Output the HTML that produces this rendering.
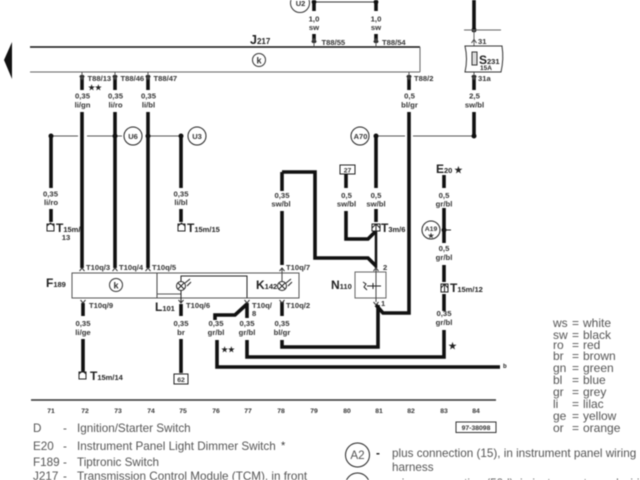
<!DOCTYPE html>
<html><head><meta charset="utf-8"><style>
html,body{margin:0;padding:0;background:#fff;width:640px;height:480px;overflow:hidden}
svg{display:block;filter:blur(.4px)}
text{font-family:"Liberation Sans",sans-serif}
.w{fill:none;stroke:#111;stroke-width:3.6}
.t{fill:none;stroke:#555;stroke-width:1}
.l{font-size:7.7px;font-weight:bold;fill:#333;text-anchor:middle}
.c{font-size:7.6px;fill:#333;font-weight:bold}
.n{font-size:6.8px;font-weight:bold;fill:#333;text-anchor:middle}
.b{font-weight:bold;fill:#222}
.g{font-size:11.7px;fill:#555}
.k{font-size:12px;fill:#555}
</style></head><body>
<svg width="640" height="480" viewBox="0 0 640 480" xmlns="http://www.w3.org/2000/svg">
<polygon points="4,60 12,42 12,79" fill="#111"/>
<line x1="30" y1="47" x2="420" y2="47" stroke="#111" stroke-width="1.5"/>
<line x1="30" y1="72" x2="420" y2="72" stroke="#666"/>
<line x1="420" y1="47" x2="420" y2="72" stroke="#666"/>
<text x="250" y="44" class="b" font-size="12.5">J<tspan font-size="8">217</tspan></text>
<circle cx="259" cy="60" r="6.5" fill="none" stroke="#333"/><text x="259" y="63.500" class="n" style="font-size:9px">k</text>

<!-- top wires -->
<circle cx="300" cy="3" r="9.5" fill="#fff" stroke="#333"/><text x="300.500" y="6" class="n" style="font-size:7.500px">U2</text>
<line x1="314" y1="2" x2="376" y2="2" stroke="#333" stroke-width="1"/>
<circle cx="314" cy="2" r="2.400" fill="#111"/><circle cx="376" cy="2" r="2.400" fill="#111"/>
<path class="w" d="M314 2V11M376 2V11M314 34V43M376 34V43"/>
<path class="t" d="M314 38V47M376 38V47"/>
<path d="M311.500 42L314 38.500L316.500 42M373.500 42L376 38.500L378.500 42" fill="none" stroke="#444"/>
<text x="314" y="21.500" class="l">1,0</text><text x="314" y="30" class="l">sw</text>
<text x="376" y="21.500" class="l">1,0</text><text x="376" y="30" class="l">sw</text>
<text x="321.500" y="45" class="c">T88/55</text><text x="382" y="45" class="c">T88/54</text>

<!-- top-bar wires down -->
<path class="w" d="M82 75V90M115 75V90M148 75V90M409 75V90M474 75V90"/>
<path class="t" d="M82 72V80M115 72V80M148 72V80M409 72V80M474 72V80"/>
<path d="M79.500 76L82 79.500L84.500 76M112.500 76L115 79.500L117.500 76M145.500 76L148 79.500L150.500 76M406.500 76L409 79.500L411.500 76M471.500 76L474 79.500L476.500 76" fill="none" stroke="#444"/>
<text x="87.500" y="81" class="c">T88/13</text><text x="120.500" y="81" class="c">T88/46</text><text x="153.500" y="81" class="c">T88/47</text>
<text x="414" y="81" class="c">T88/2</text><text x="478" y="81" class="c">31a</text>
<text x="95" y="90" font-size="7.5" class="b" text-anchor="middle">★★</text>
<text x="82.500" y="98.500" class="l">0,35</text><text x="82.500" y="107.500" class="l">li/gn</text>
<text x="115.500" y="98.500" class="l">0,35</text><text x="115.500" y="107.500" class="l">li/ro</text>
<text x="148.500" y="98.500" class="l">0,35</text><text x="148.500" y="107.500" class="l">li/bl</text>
<text x="409.500" y="98.500" class="l">0,5</text><text x="409.500" y="107.500" class="l">bl/gr</text>
<text x="474.500" y="98.500" class="l">2,5</text><text x="474.500" y="107.500" class="l">sw/bl</text>

<!-- main verticals -->
<path class="t" d="M51 136H78M87 136H115M115 136H122M148 136H181"/>
<path class="w" d="M82 112V268M115 112V268M148 112V268M51 136V188M181 136V188M51 209V222M181 209V222"/>
<circle cx="51" cy="136" r="2.500" fill="#111"/><circle cx="115" cy="136" r="2.500" fill="#111"/><circle cx="148" cy="136" r="2.500" fill="#111"/><circle cx="181" cy="136" r="2.500" fill="#111"/>
<circle cx="133" cy="136" r="9" fill="#fff" stroke="#222"/><text x="133" y="139" class="n" style="font-size:7.500px">U6</text>
<circle cx="197" cy="136" r="9" fill="#fff" stroke="#222"/><text x="197" y="139" class="n" style="font-size:7.500px">U3</text>
<text x="50.500" y="196.500" class="l">0,35</text><text x="51" y="205" class="l">li/ro</text>
<text x="181" y="196.500" class="l">0,35</text><text x="181" y="205" class="l">li/bl</text>
<rect x="47" y="224" width="7" height="7" fill="#fff" stroke="#222"/><path d="M47 226L50.500 223L54 226" fill="none" stroke="#222"/>
<rect x="178" y="224" width="7" height="7" fill="#fff" stroke="#222"/><path d="M178 226L181.500 223L185 226" fill="none" stroke="#222"/>
<text x="56" y="232" class="b" font-size="12">T<tspan font-size="7.5">15m/</tspan></text>
<text x="66" y="240" class="l">13</text>
<text x="187" y="232" class="b" font-size="12">T<tspan font-size="7.5">15m/15</tspan></text>

<!-- fuse -->
<path class="w" d="M474 0V30"/>
<circle cx="474" cy="30" r="2.500" fill="#111"/>
<line x1="464" y1="30" x2="501" y2="30" stroke="#666"/>
<line x1="474" y1="30" x2="474" y2="46" stroke="#666"/>
<path d="M471.500 43L474 39.500L476.500 43" fill="none" stroke="#444"/>
<text x="478" y="44" class="c">31</text>
<path d="M465 46H502Q504 59 501 72H465Q468 59 465 46Z" fill="#fff" stroke="#333"/>
<rect x="472" y="52" width="5" height="13" fill="#ddd" stroke="#333"/>
<text x="479" y="64" class="b" font-size="12">S<tspan font-size="7.5">231</tspan></text>
<text x="480" y="70" class="b" font-size="6.500">15A</text>
<path class="w" d="M474 112V136"/>
<line x1="376" y1="136" x2="405" y2="136" stroke="#555"/><line x1="413" y1="136" x2="474" y2="136" stroke="#555"/>
<circle cx="474" cy="136" r="2.500" fill="#111"/><circle cx="376" cy="136" r="2.500" fill="#111"/>
<circle cx="360" cy="136" r="9" fill="#fff" stroke="#222"/><text x="360.500" y="139" class="n" style="font-size:7.500px">A70</text>
<path class="w" d="M409 112V313H383L376 305"/>
<path class="w" d="M376 136V188M376 209V222"/>
<path class="w" style="stroke-width:2.500px" d="M376 230V268"/>

<!-- 27 -->
<rect x="340" y="165" width="15" height="9" fill="#fff" stroke="#222"/><text x="347.500" y="172.500" class="n">27</text>
<path class="w" d="M346 174V188M346 211V239H368L376 231"/>
<text x="346.500" y="198" class="l">0,5</text><text x="346.500" y="206.500" class="l">sw/bl</text>
<text x="376" y="198" class="l">0,5</text><text x="376" y="206.500" class="l">sw/bl</text>
<rect x="372" y="224" width="8" height="7" fill="#fff" stroke="#222"/><path d="M372 228L376 224L380 228M376 224V231" fill="none" stroke="#222"/>
<text x="381" y="232" class="b" font-size="12">T<tspan font-size="7.5">3m/6</tspan></text>

<!-- 282 wire -->
<path class="w" d="M282 172V191M282 211V265M282 172H315V258H368L376 266"/>
<text x="282" y="198" class="l">0,35</text><text x="281" y="206.500" class="l">sw/bl</text>
<text x="286" y="270" class="c">T10q/7</text>
<text x="383" y="270" class="c">2</text>

<!-- E20 -->
<text x="436" y="173" class="b" font-size="12">E<tspan font-size="7.5">20</tspan><tspan font-size="9" dx="2">★</tspan></text>
<path class="w" d="M444 175V188M444 208V243M444 265V282M444 294V311M444 330V357H247V340M217 340V367H500"/>
<text x="444" y="198" class="l">0,5</text><text x="444" y="206.500" class="l">gr/bl</text>
<text x="444" y="251" class="l">0,5</text><text x="444" y="260" class="l">gr/bl</text>
<text x="444" y="316" class="l">0,35</text><text x="444" y="325" class="l">gr/bl</text>
<circle cx="431" cy="230" r="9" fill="#fff" stroke="#222"/><text x="431" y="231" class="n">A19</text><text x="431" y="238" class="n" style="font-size:7px">★</text>
<circle cx="444" cy="230" r="2.500" fill="#111"/><line x1="444" y1="230" x2="451" y2="230" stroke="#222"/>
<rect x="441" y="284" width="7" height="8" fill="#fff" stroke="#222"/><path d="M441 288L444.500 284L448 288M444.500 284V292" fill="none" stroke="#222"/>
<text x="450" y="292" class="b" font-size="12">T<tspan font-size="7.5">15m/12</tspan></text>
<text x="452.500" y="349" class="b" font-size="9" text-anchor="middle">★</text>
<text x="503" y="368" class="b" font-size="6">b</text>
<text x="228" y="352" class="b" font-size="7.5" text-anchor="middle">★★</text>

<!-- control boxes -->
<rect x="72" y="273" width="227" height="25" fill="#fff" stroke="#555"/>
<line x1="157" y1="273" x2="157" y2="298" stroke="#444"/>
<path d="M157 294H181" stroke="#555" fill="none"/>
<path d="M181 302V276H247V298" stroke="#222" fill="none"/>
<circle cx="181" cy="286" r="4.500" fill="#fff" stroke="#222"/><path d="M178 283L184 289M184 283L178 289M185 283L190 279M187 286L191 282" stroke="#222" fill="none"/>
<circle cx="282" cy="286" r="4.500" fill="#fff" stroke="#222"/><path d="M279 283L285 289M285 283L279 289M286 283L291 279M288 286L292 282" stroke="#222" fill="none"/>
<circle cx="116" cy="285" r="6.500" fill="#fff" stroke="#333"/><text x="116" y="288.500" class="n" style="font-size:9px">k</text>
<text x="46" y="287" class="b" font-size="12">F<tspan font-size="7.5">189</tspan></text>
<text x="256" y="289" class="b" font-size="12">K<tspan font-size="7.5">142</tspan></text>
<line x1="282" y1="268" x2="282" y2="281" stroke="#444"/>
<path d="M79.500 271L82 268L84.500 271M112.500 271L115 268L117.500 271M145.500 271L148 268L150.500 271M279.500 271L282 268L284.500 271M373.500 271L376 268L378.500 271" stroke="#333" fill="none"/>
<text x="86" y="270" class="c">T10q/3</text><text x="119" y="270" class="c">T10q/4</text><text x="152" y="270" class="c">T10q/5</text>

<rect x="355" y="272" width="31" height="26" fill="#fff" stroke="#666"/>
<text x="331" y="289" class="b" font-size="12">N<tspan font-size="7.5">110</tspan></text>
<line x1="376" y1="268" x2="376" y2="302" stroke="#444"/>
<path d="M363 282L366 284L364 287L367 290M367 286H381M373 283V289" stroke="#222" fill="none"/>
<path d="M373.500 302L376 305L378.500 302" stroke="#333" fill="none"/>
<text x="381" y="306" class="c">1</text>
<path class="w" d="M282 340V347H378V305"/>

<!-- under boxes -->
<path class="w" d="M83 303V316M83 339V372M181 304V316M181 339V373M282 302V316M247 303V318M215 320V315H235L247 304"/>
<path d="M80.500 300L83 303L85.500 300M178.500 300L181 303L183.500 300M279.500 300L282 303L284.500 300M244.500 300L247 303L249.500 300" stroke="#333" fill="none"/>
<text x="89" y="308" class="c">T10q/9</text><text x="186" y="308" class="c">T10q/6</text>
<text x="252" y="308" class="c">T10q/</text><text x="252" y="316" class="c">8</text><text x="286" y="308" class="c">T10q/2</text>
<text x="155" y="311" class="b" font-size="12">L<tspan font-size="7.5">101</tspan></text>
<text x="83" y="326" class="l">0,35</text><text x="83" y="335" class="l">li/ge</text>
<text x="181" y="326" class="l">0,35</text><text x="181" y="335" class="l">br</text>
<text x="216" y="326" class="l">0,35</text><text x="216" y="335" class="l">gr/bl</text>
<text x="247" y="326" class="l">0,35</text><text x="247" y="335" class="l">gr/bl</text>
<text x="282" y="326" class="l">0,35</text><text x="282" y="335" class="l">bl/gr</text>
<rect x="79" y="372" width="7" height="7" fill="#fff" stroke="#222"/><path d="M79 374L82.500 371L86 374" stroke="#222" fill="none"/>
<text x="90" y="380" class="b" font-size="12">T<tspan font-size="7.5">15m/14</tspan></text>
<rect x="174" y="374" width="14" height="10" fill="#fff" stroke="#222"/><text x="181" y="382" class="n">62</text>

<!-- axis -->
<line x1="31" y1="400" x2="496" y2="400" stroke="#333" stroke-width="1.600"/>
<g class="n"><text x="51" y="413">71</text><text x="85" y="413">72</text><text x="118" y="413">73</text><text x="151" y="413">74</text><text x="183" y="413">75</text><text x="216" y="413">76</text><text x="248" y="413">77</text><text x="281" y="413">78</text><text x="314" y="413">79</text><text x="347" y="413">80</text><text x="379" y="413">81</text><text x="411" y="413">82</text><text x="444" y="413">83</text><text x="476" y="413">84</text></g>
<rect x="456" y="422" width="40" height="10.500" fill="#fff" stroke="#333"/><text x="476" y="430" class="n">97-38098</text>

<!-- legend -->
<g class="g">
<text x="33" y="432">D</text><text x="63" y="432">-</text><text x="77" y="432">Ignition/Starter Switch</text>
<text x="33" y="450">E20</text><text x="63" y="450">-</text><text x="77" y="450">Instrument Panel Light Dimmer Switch</text>
<text x="33" y="466">F189</text><text x="63" y="466">-</text><text x="77" y="466">Tiptronic Switch</text>
<text x="33" y="480">J217</text><text x="63" y="480">-</text><text x="77" y="480">Transmission Control Module (TCM), in front</text>
</g>
<text x="281" y="449" font-size="11" fill="#333">*</text>
<circle cx="357.500" cy="455" r="12" fill="#fff" stroke="#222"/><text x="357.500" y="459" text-anchor="middle" class="g">A2</text>
<text x="376" y="457" class="b" font-size="11.7">-</text>
<text x="392" y="457" class="g">plus connection (15), in instrument panel wiring</text>
<text x="392" y="471" class="g">harness</text>
<circle cx="357.500" cy="485" r="12" fill="#fff" stroke="#222"/><text x="357.500" y="489" text-anchor="middle" class="g">A19</text>
<text x="392" y="487" class="g">minus connection (58d), in instrument panel wiring</text>
<g class="k">
<text x="553" y="327">ws</text><text x="572" y="327">=</text><text x="583" y="327">white</text>
<text x="553" y="339">sw</text><text x="572" y="339">=</text><text x="583" y="339">black</text>
<text x="553" y="349">ro</text><text x="572" y="349">=</text><text x="583" y="349">red</text>
<text x="553" y="360">br</text><text x="572" y="360">=</text><text x="583" y="360">brown</text>
<text x="553" y="372">gn</text><text x="572" y="372">=</text><text x="583" y="372">green</text>
<text x="553" y="384">bl</text><text x="572" y="384">=</text><text x="583" y="384">blue</text>
<text x="553" y="396">gr</text><text x="572" y="396">=</text><text x="583" y="396">grey</text>
<text x="553" y="408">li</text><text x="572" y="408">=</text><text x="583" y="408">lilac</text>
<text x="553" y="420">ge</text><text x="572" y="420">=</text><text x="583" y="420">yellow</text>
<text x="553" y="432">or</text><text x="572" y="432">=</text><text x="583" y="432">orange</text>
</g>
</svg>
</body></html>
